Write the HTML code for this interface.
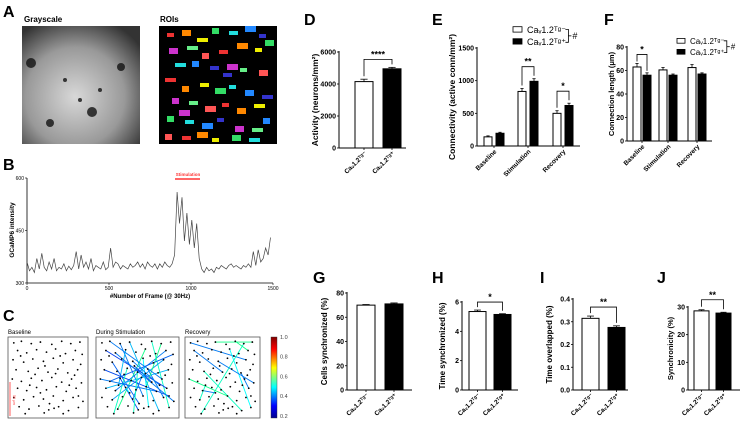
<!DOCTYPE html>
<html><head><meta charset="utf-8"><style>
body{margin:0;background:#fff}
svg{display:block;font-family:"Liberation Sans",Arial,sans-serif}
.pl{font-size:16px;font-weight:bold}
.tk{font-size:7px;font-weight:bold}
.yl{font-size:8.5px;font-weight:bold}
</style></head><body>
<svg id="fig" width="740" height="425" viewBox="0 0 740 425">
<defs>
<radialGradient id="gs" cx="0.45" cy="0.6" r="0.7"><stop offset="0" stop-color="#d8d8d8"/><stop offset="0.6" stop-color="#999"/><stop offset="1" stop-color="#333"/></radialGradient>
<linearGradient id="cb" x1="0" y1="1" x2="0" y2="0"><stop offset="0" stop-color="#00008f"/><stop offset="0.15" stop-color="#0000ff"/><stop offset="0.38" stop-color="#00ffff"/><stop offset="0.62" stop-color="#ffff00"/><stop offset="0.85" stop-color="#ff0000"/><stop offset="1" stop-color="#800000"/></linearGradient>
</defs>
<text class="pl" x="3" y="17">A</text>
<text x="24" y="22" font-size="8" font-weight="bold">Grayscale</text>
<text x="160" y="22" font-size="8" font-weight="bold">ROIs</text>
<rect x="22" y="26" width="118" height="118" fill="url(#gs)"/>
<g id="gspots"></g>
<rect x="159" y="26" width="118" height="118" fill="#000"/>
<g id="rois"></g>
<text class="pl" x="3" y="170">B</text>
<g id="trace"></g>
<text class="pl" x="3" y="321">C</text>
<g id="netc"></g>
<g id="bars"></g>
</svg>
<script>
const NS="http://www.w3.org/2000/svg";
const fig=document.getElementById('fig');
function mk(tag,attrs,parent,txt){const e=document.createElementNS(NS,tag);for(const k in attrs)e.setAttribute(k,attrs[k]);if(txt!==undefined)e.textContent=txt;(parent||fig).appendChild(e);return e;}

const traceFrames=Array.from({length:100},(_, i)=>i*15);
const traceValues=[360,335,345,330,370,340,385,345,335,360,340,370,335,345,340,355,335,348,338,350,390,340,380,345,360,340,370,335,350,345,340,360,338,345,400,345,360,355,340,350,345,340,355,345,350,360,345,355,340,360,350,345,355,340,355,345,360,350,345,355,
380,560,470,545,420,500,410,480,400,470,370,
340,330,345,335,340,330,345,340,350,345,340,350,355,345,350,345,340,350,345,355,345,390,350,395,360,370,400,380,430];
const traceXTicks=[0,500,1000,1500];
const traceYTicks=[300,450,600];

const groupLabels=["Ca\u1D651.2\u1D40\u1D4D\u207B","Ca\u1D651.2\u1D40\u1D4D\u207A"];
const dValues=[4150,4950];const dErr=[150,90];const dTicks=[0,2000,4000,6000];
const eCats=["Baseline","Stimulation","Recovery"];
const eNeg=[140,835,500];const ePos=[195,990,620];const eNegErr=[15,45,40];const ePosErr=[15,40,35];const eTicks=[0,500,1000,1500];
const fNeg=[63,60.5,62.5];const fPos=[56,56,57];const fNegErr=[3,2,2.5];const fPosErr=[2,1,1];const fTicks=[0,20,40,60,80];
const gValues=[70,71];const gErr=[0.5,0.8];const gTicks=[0,20,40,60,80];
const hValues=[5.35,5.15];const hErr=[0.1,0.05];const hTicks=[0,2,4,6];
const iValues=[0.315,0.275];const iErr=[0.01,0.007];const iTicks=[0.0,0.1,0.2,0.3,0.4];
const jValues=[28.6,27.8];const jErr=[0.4,0.3];const jTicks=[0,10,20,30];

const gsp=document.getElementById('gspots');
[[31,63,5],[121,67,4],[92,112,5],[50,123,4],[65,80,2],[100,90,2],[80,100,2]].forEach(p=>{const c=mk('circle',{cx:p[0],cy:p[1],r:p[2],fill:'#111',opacity:0.8},gsp);});
const roiCols=['#e33','#f80','#ee0','#3d6','#2dd','#28f','#33c','#c3c','#6e8','#f55'];
const roiPts=[[170,35],[185,32],[200,40],[215,30],[232,33],[248,28],[262,36],[172,50],[190,48],[205,55],[222,52],[240,45],[258,50],[268,42],[178,65],[195,63],[213,68],[230,66],[243,70],[262,72],[168,80],[185,88],[203,85],[218,90],[232,87],[248,92],[265,97],[175,100],[192,103],[208,108],[225,105],[240,110],[257,106],[170,118],[188,122],[205,125],[220,120],[238,128],[255,130],[168,136],[185,138],[200,134],[215,140],[235,137],[252,140],[266,120],[226,75],[182,112]];
const rg=document.getElementById('rois');
roiPts.forEach((p,i)=>{const r=mk('rect',{x:p[0]-3,y:p[1]-2,width:7+(i%3)*2,height:4+(i%2)*2,fill:roiCols[i%10]},rg);});

(function(){
 const g=document.getElementById('trace');
 const x0=27,x1=273,y0=283,y1=178;
 const sx=v=>x0+(v-0)/(1500-0)*(x1-x0), sy=v=>y0-(v-300)/(600-300)*(y0-y1);
 let a=mk('line',{x1:x0,y1:y1,x2:x0,y2:y0,stroke:'#000','stroke-width':0.8},g);
 a=mk('line',{x1:x0,y1:y0,x2:x1,y2:y0,stroke:'#000','stroke-width':0.8},g);
 traceXTicks.forEach(t=>{mk('line',{x1:sx(t),y1:y0,x2:sx(t),y2:y0+2,stroke:'#000','stroke-width':0.6},g);const l=mk('text',{x:sx(t),y:y0+7,'font-size':5,'text-anchor':'middle'},g,t);});
 traceYTicks.forEach(t=>{mk('line',{x1:x0-2,y1:sy(t),x2:x0,y2:sy(t),stroke:'#000','stroke-width':0.6},g);const l=mk('text',{x:x0-3,y:sy(t)+2,'font-size':5,'text-anchor':'end'},g,t);});
 const pts=traceValues.map((v,i)=>sx(traceFrames[i]).toFixed(1)+','+sy(v).toFixed(1)).join(' ');
 const pl=mk('polyline',{points:pts,fill:'none',stroke:'#444','stroke-width':0.7},g);
 let s=mk('line',{x1:175,y1:179,x2:200,y2:179,stroke:'#f33','stroke-width':1.5},g);
 s=mk('text',{x:188,y:176,'font-size':4.5,'font-weight':'bold',fill:'#f33','text-anchor':'middle'},g,'Stimulation');
 s=mk('text',{x:150,y:298,'font-size':6,'font-weight':'bold','text-anchor':'middle'},g,'#Number of Frame (@ 30Hz)');
 s=mk('text',{x:0,y:0,'font-size':6.5,'font-weight':'bold','text-anchor':'middle',transform:'translate(14,230) rotate(-90)'},g,'GCaMP6 intensity');
})();

const cPts=[[5,5],[15,3],[28,6],[40,4],[55,7],[68,3],[80,6],[92,4],[10,15],[22,18],[35,14],[48,17],[60,13],[73,19],[86,15],[95,20],[4,27],[18,30],[30,26],[44,29],[57,25],[70,31],[83,27],[93,33],[8,40],[24,42],[37,38],[50,43],[63,39],[76,44],[89,40],[3,52],[15,55],[28,51],[42,54],[55,50],[68,56],[81,52],[94,57],[10,64],[22,67],[35,63],[48,66],[61,62],[74,68],[87,64],[5,76],[18,79],[31,75],[44,78],[57,74],[70,80],[83,76],[96,81],[12,88],[25,91],[38,87],[51,92],[64,88],[77,93],[90,89],[20,97],[45,96],[70,97],[33,46],[66,22],[52,84],[85,47],[40,70],[60,45],[26,60],[78,60],[14,22],[90,74],[46,35],[58,90]];
const stimLinks=[[2,50],[5,60],[8,45],[10,70],[12,55],[14,40],[17,66],[20,58],[22,47],[24,73],[26,61],[28,52],[30,39],[33,57],[35,49],[6,43],[9,53],[36,74],[41,68],[44,31],[3,59],[15,32],[19,71],[27,62],[1,37]];
const stimStr=[0.3,0.45,0.25,0.35,0.5,0.3,0.28,0.4,0.33,0.26,0.45,0.3,0.35,0.27,0.3,0.5,0.3,0.26,0.4,0.3,0.35,0.28,0.3,0.45,0.3];
const recLinks=[[0,22],[5,14],[6,61],[8,27],[12,60],[19,38],[25,59],[31,50],[40,68],[47,70],[3,7],[29,45]];
const recStr=[0.3,0.5,0.45,0.3,0.4,0.3,0.45,0.5,0.3,0.45,0.5,0.3];
function cmap(v){const t=(v-0.2)/0.8;const h=240-t*240;return 'hsl('+h+',100%,'+(45+ (t<0.4?t*20:5))+'%)';}
(function(){
 const g=document.getElementById('netc');
 const panels=[{x:8,w:80,t:'Baseline',links:[],str:[]},{x:96,w:83,t:'During Stimulation',links:stimLinks,str:stimStr},{x:185,w:75,t:'Recovery',links:recLinks,str:recStr}];
 panels.forEach((p,pi)=>{
  const y=337,h=81;
  const px=v=>p.x+2+v/100*(p.w-4), py=v=>y+2+v/100*(h-4);
  let t=mk('text',{x:p.x,y:334,'font-size':6},g,p.t);
  p.links.forEach((l,i)=>{const a=cPts[l[0]],b=cPts[l[1]];const ln=mk('line',{x1:px(a[0]),y1:py(a[1]),x2:px(b[0]),y2:py(b[1]),stroke:cmap(p.str[i]),'stroke-width':0.9},g);});
  cPts.forEach(c=>{const d=mk('circle',{cx:px(c[0]),cy:py(c[1]),r:0.9,fill:'#000'},g);});
  const r=mk('rect',{x:p.x,y:y,width:p.w,height:h,fill:'none',stroke:'#555','stroke-width':0.8},g);
 });
 let s=mk('line',{x1:10,y1:382,x2:10,y2:416,stroke:'#f33','stroke-width':0.8},g);
 s=mk('text',{x:0,y:0,'font-size':3.5,fill:'#f33',transform:'translate(13,400) rotate(90)','text-anchor':'middle'},g,'50 μm');
 s=mk('rect',{x:271,y:337,width:6,height:81,fill:'url(#cb)',stroke:'#333','stroke-width':0.4},g);
 [1.0,0.8,0.6,0.4,0.2].forEach((v,i)=>{const l=mk('text',{x:280,y:339+i*19.7,'font-size':5.5,fill:'#444'},g,v.toFixed(1));});
})();

const bg=document.getElementById('bars');
function axisPanel(cfg){
 const sy=v=>cfg.y0-(v-cfg.ticks[0])/(cfg.ticks[cfg.ticks.length-1]-cfg.ticks[0])*(cfg.y0-cfg.y1);
 let a=mk('line',{x1:cfg.ax,y1:cfg.y1-1,x2:cfg.ax,y2:cfg.y0,stroke:'#000','stroke-width':1},bg);
 a=mk('line',{x1:cfg.ax,y1:cfg.y0,x2:cfg.xe,y2:cfg.y0,stroke:'#000','stroke-width':1},bg);
 cfg.ticks.forEach(t=>{mk('line',{x1:cfg.ax-2,y1:sy(t),x2:cfg.ax,y2:sy(t),stroke:'#000','stroke-width':0.8},bg);const l=mk('text',{class:'tk',x:cfg.ax-3,y:sy(t)+2.5,'text-anchor':'end','font-size':cfg.fs||7},bg,cfg.fmt?cfg.fmt(t):t);});
 const yt=mk('text',{class:'yl',x:0,y:0,'text-anchor':'middle','font-size':cfg.yfs||8.5,style:'font-size:'+(cfg.yfs||8.5)+'px',transform:'translate('+cfg.ylx+','+((cfg.y0+cfg.y1)/2)+') rotate(-90)'},bg,cfg.ytitle);
 const pl=mk('text',{class:'pl',x:cfg.lx,y:cfg.ly},bg,cfg.id.toUpperCase());
 return sy;
}
function bar(sy,x,w,v,e,black,y0,name){
 mk('line',{x1:x+w/2,y1:sy(v+e),x2:x+w/2,y2:sy(v),stroke:'#000','stroke-width':0.8},bg);
 mk('line',{x1:x+w/2-w*0.2,y1:sy(v+e),x2:x+w/2+w*0.2,y2:sy(v+e),stroke:'#000','stroke-width':0.8},bg);
 const r=mk('rect',{x:x,y:sy(v),width:w,height:y0-sy(v),fill:black?'#000':'#fff',stroke:'#000','stroke-width':1},bg);
}
function bracket(xa,xb,ya,yb,ytop,star,fs){
 const p=mk('polyline',{points:xa+','+ya+' '+xa+','+ytop+' '+xb+','+ytop+' '+xb+','+yb,fill:'none',stroke:'#000','stroke-width':0.8},bg);
 const t=mk('text',{x:(xa+xb)/2,y:ytop-2,'text-anchor':'middle','font-size':fs||9,'font-weight':'bold'},bg,star);
}
function xlab(x,y,txt,fs){const t=mk('text',{x:0,y:0,'text-anchor':'end','font-size':fs||6.5,'font-weight':'bold',transform:'translate('+x+','+y+') rotate(-45)'},bg,txt);}
function twoBar(cfg,vals,errs,xs,w){
 const sy=axisPanel(cfg);
 vals.forEach((v,i)=>bar(sy,xs[i],w,v,errs[i],i===1,cfg.y0,cfg.id+'-bar-'+(i?'tg-pos':'tg-neg')));
 xs.forEach((x,i)=>{mk('line',{x1:x+w/2,y1:cfg.y0,x2:x+w/2,y2:cfg.y0+2,stroke:'#000','stroke-width':0.8},bg);xlab(x+w/2+3,cfg.y0+6,groupLabels[i],cfg.xfs);});
 if(cfg.star){const top=Math.min(sy(vals[0]+errs[0]),sy(vals[1]+errs[1]))-cfg.bgap;bracket(xs[0]+w/2,xs[1]+w/2,sy(vals[0]+errs[0])-3,sy(vals[1]+errs[1])-3,top,cfg.star);}
 return sy;
}
twoBar({id:'d',ax:339,y0:148,y1:52,xe:406,ticks:dTicks,ylx:318,ytitle:'Activity (neurons/mm²)',lx:304,ly:25,star:'****',bgap:8},dValues,dErr,[355,383],18);
twoBar({id:'g',ax:347,y0:390,y1:293,xe:412,ticks:gTicks,ylx:327,ytitle:'Cells synchronized  (%)',lx:313,ly:283,yfs:8},gValues,gErr,[357,385],18);
twoBar({id:'h',ax:462,y0:390,y1:302,xe:518,ticks:hTicks,ylx:445,ytitle:'Time synchronized  (%)',lx:432,ly:283,star:'*',bgap:8,fs:6,yfs:8},hValues,hErr,[469,494],17);
twoBar({id:'i',ax:573,y0:390,y1:299,xe:628,ticks:iTicks,fmt:t=>t.toFixed(1),ylx:552,ytitle:'Time overlapped (%)',lx:540,ly:283,star:'**',bgap:9,yfs:8},iValues,iErr,[582,608],17);
twoBar({id:'j',ax:688,y0:390,y1:307,xe:740,ticks:jTicks,ylx:673,ytitle:'Synchronicity  (%)',lx:657,ly:283,star:'**',bgap:10,fs:6,yfs:7.5},jValues,jErr,[694,716],15);
(function(){
 const cfg={id:'e',ax:477,y0:146,y1:48,xe:580,ticks:eTicks,ylx:455,ytitle:'Connectivity (active conn/mm²)',lx:432,ly:25};
 const sy=axisPanel(cfg);
 const gx=[484,518,553];
 eCats.forEach((c,i)=>{bar(sy,gx[i],8,eNeg[i],eNegErr[i],false,cfg.y0,'e-bar-tg-neg');bar(sy,gx[i]+12,8,ePos[i],ePosErr[i],true,cfg.y0,'e-bar-tg-pos');mk('line',{x1:gx[i]+10,y1:cfg.y0,x2:gx[i]+10,y2:cfg.y0+2,stroke:'#000','stroke-width':0.8},bg);xlab(gx[i]+13,cfg.y0+6,c);});
 [1,2].forEach(i=>{const top=sy(ePos[i]+ePosErr[i])-12;bracket(gx[i]+4,gx[i]+16,sy(eNeg[i]+eNegErr[i])-3,sy(ePos[i]+ePosErr[i])-3,top,i===1?'**':'*');});
 legend(513,33,9,'e');
})();
(function(){
 const cfg={id:'f',ax:627,y0:141,y1:47,xe:712,ticks:fTicks,ylx:614,ytitle:'Connection length (μm)',lx:604,ly:25,fs:6,yfs:7.5};
 const sy=axisPanel(cfg);
 const gx=[633,659,688];
 eCats.forEach((c,i)=>{bar(sy,gx[i],8,fNeg[i],fNegErr[i],false,cfg.y0,'f-bar-tg-neg');bar(sy,gx[i]+10,8,fPos[i],fPosErr[i],true,cfg.y0,'f-bar-tg-pos');mk('line',{x1:gx[i]+9,y1:cfg.y0,x2:gx[i]+9,y2:cfg.y0+2,stroke:'#000','stroke-width':0.8},bg);xlab(gx[i]+12,cfg.y0+6,c);});
 bracket(gx[0]+4,gx[0]+14,sy(fNeg[0]+fNegErr[0])-2,sy(fPos[0]+fPosErr[0])-2,sy(fNeg[0]+fNegErr[0])-9,'*');
 legend(677,44,8,'f');
})();
function legend(x,y,fs,id){
 const g=mk('g',{},bg);
 const dy=fs+3;
 mk('rect',{x:x,y:y-fs*0.7,width:fs,height:fs*0.6,fill:'#fff',stroke:'#000','stroke-width':0.8},g);
 mk('rect',{x:x,y:y+dy-fs*0.7,width:fs,height:fs*0.6,fill:'#000',stroke:'#000','stroke-width':0.8},g);
 let t=mk('text',{x:x+fs+5,y:y,'font-size':fs},g,'Ca\u1D651.2\u1D40\u1D4D\u207B');
 t=mk('text',{x:x+fs+5,y:y+dy,'font-size':fs},g,'Ca\u1D651.2\u1D40\u1D4D\u207A');
 const bx=x+fs+5+fs*4.6;
 mk('polyline',{points:(bx-3)+','+(y-fs*0.4)+' '+bx+','+(y-fs*0.4)+' '+bx+','+(y+dy-fs*0.3)+' '+(bx-3)+','+(y+dy-fs*0.3),fill:'none',stroke:'#000','stroke-width':0.8},g);
 mk('line',{x1:bx,y1:y+dy/2-fs*0.35,x2:bx+3,y2:y+dy/2-fs*0.35,stroke:'#000','stroke-width':0.8},g);
 t=mk('text',{x:bx+4,y:y+dy/2,'font-size':fs},g,'#');
}
</script>
</body></html>
